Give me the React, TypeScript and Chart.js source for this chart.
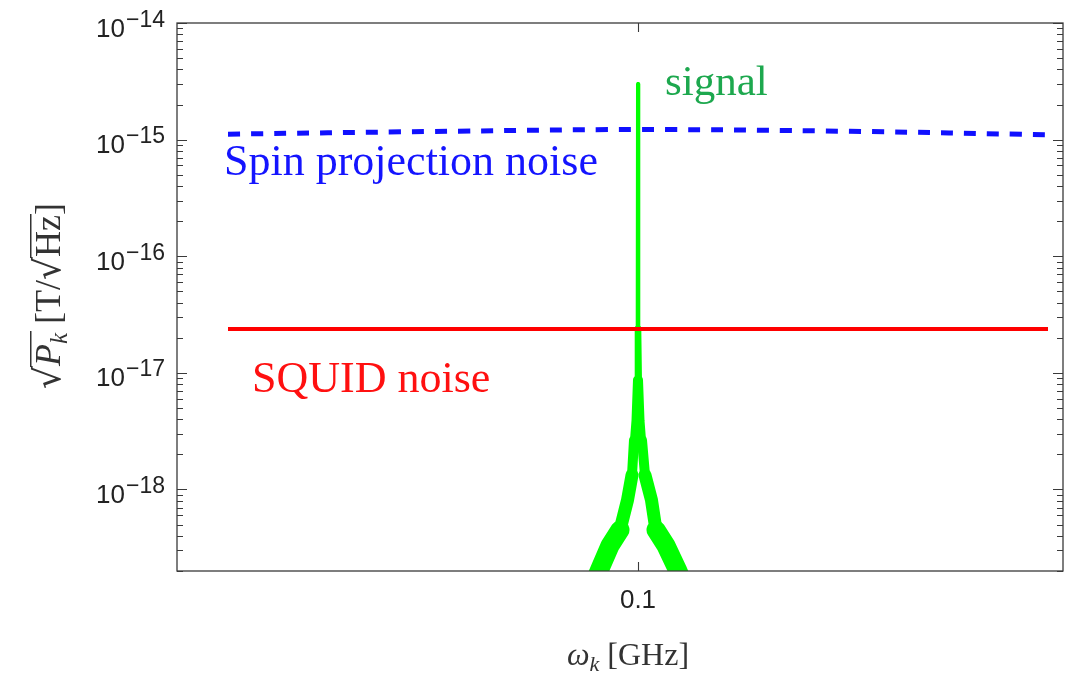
import React, { useEffect, useRef } from "react";
import { Chart, registerables } from "chart.js";

Chart.register(...registerables);

// ---- axis ranges ----
const xMin = 0.099539; // GHz
const xMax = 0.100425;
const yMin = 2e-19;
const yMax = 1e-14;

// ---- tick labels ----
const xTickValues = [0.1];
const xTickLabels = ["0.1"];
const yTickValues = [1e-14, 1e-15, 1e-16, 1e-17, 1e-18];
const yTickBase = "10";
const yTickExponents = ["\u221214", "\u221215", "\u221216", "\u221217", "\u221218"];

// ---- series: signal (left and right flanks of the resonance) ----
const signalLeftX = [0.099955, 0.099961, 0.099972, 0.099982, 0.0999895, 0.099994, 0.099996, 0.0999975, 0.099999, 0.0999997, 0.1];
const signalLeftY = [1.5e-19, 2.0e-19, 3.3e-19, 4.5e-19, 8.1e-19, 1.33e-18, 2.65e-18, 3.9e-18, 8.7e-18, 2.4e-17, 3.0e-15];
const signalRightX = [0.1000003, 0.100001, 0.1000025, 0.100004, 0.100007, 0.1000135, 0.100018, 0.100028, 0.10004, 0.100046];
const signalRightY = [2.4e-17, 8.7e-18, 3.9e-18, 2.65e-18, 1.33e-18, 8.1e-19, 4.5e-19, 3.3e-19, 2.0e-19, 1.5e-19];

// ---- series: spin projection noise ----
const spinX = [0.09959, 0.09979, 0.1, 0.100212, 0.10041];
const spinY = [1.114e-15, 1.173e-15, 1.22e-15, 1.178e-15, 1.1e-15];

// ---- series: SQUID noise ----
const squidX = [0.09959, 0.10041];
const squidY = [2.38e-17, 2.38e-17];

// ---- annotation texts ----
const signalLabel = "signal";
const spinLabel = "Spin projection noise";
const squidLabel = "SQUID noise";

const toPoints = (xs: number[], ys: number[]) => xs.map((x, i) => ({ x, y: ys[i] }));

const signalWidth = (v: number) => {
  if (v < 4e-19) return 19;
  if (v < 1e-18) return 13;
  if (v < 2e-18) return 10;
  if (v < 5e-18) return 8;
  if (v < 2e-17) return 6;
  return 4;
};

const overlay = {
  id: "overlay",
  afterDatasetsDraw(chart: any) {
    const { ctx, chartArea: a, scales } = chart;
    const x = scales.x;
    const y = scales.y;
    ctx.save();
    // frame
    ctx.strokeStyle = "#3a3a3a";
    ctx.lineWidth = 1.3;
    ctx.strokeRect(a.left, a.top, a.right - a.left, a.bottom - a.top);
    // y ticks (major + minor, inward on both sides)
    ctx.lineWidth = 1.1;
    ctx.beginPath();
    for (let d = -19; d <= -14; d++) {
      for (let k = 1; k <= 9; k++) {
        const v = k * Math.pow(10, d);
        if (v < yMin * 0.999 || v > yMax * 1.001) continue;
        const py = Math.round(y.getPixelForValue(v)) + 0.5;
        const len = k === 1 ? 10 : 6;
        ctx.moveTo(a.left, py);
        ctx.lineTo(a.left + len, py);
        ctx.moveTo(a.right, py);
        ctx.lineTo(a.right - len, py);
      }
    }
    // x ticks
    xTickValues.forEach((v) => {
      const px = Math.round(x.getPixelForValue(v)) + 0.5;
      ctx.moveTo(px, a.bottom);
      ctx.lineTo(px, a.bottom - 9);
      ctx.moveTo(px, a.top);
      ctx.lineTo(px, a.top + 9);
    });
    ctx.stroke();

    // y tick labels with superscript exponents
    ctx.fillStyle = "#222";
    ctx.textBaseline = "alphabetic";
    yTickValues.forEach((v, i) => {
      const py = y.getPixelForValue(v);
      const right = a.left - 12;
      ctx.font = "23px 'Liberation Sans', Arial, sans-serif";
      const ew = ctx.measureText(yTickExponents[i]).width;
      ctx.textAlign = "left";
      ctx.fillText(yTickExponents[i], right - ew, py + 3.5);
      ctx.font = "26px 'Liberation Sans', Arial, sans-serif";
      ctx.textAlign = "right";
      ctx.fillText(yTickBase, right - ew - 1, py + 13.5);
    });
    // x tick labels
    ctx.font = "26px 'Liberation Sans', Arial, sans-serif";
    ctx.textAlign = "center";
    xTickValues.forEach((v, i) => {
      ctx.fillText(xTickLabels[i], x.getPixelForValue(v), a.bottom + 37);
    });

    // annotations
    ctx.textAlign = "left";
    ctx.font = "43px 'Liberation Serif', 'Times New Roman', serif";
    ctx.fillStyle = "#1da84e";
    ctx.fillText(signalLabel, 665, 95);
    ctx.font = "44px 'Liberation Serif', 'Times New Roman', serif";
    ctx.fillStyle = "#1414ff";
    ctx.fillText(spinLabel, 224, 175);
    ctx.fillStyle = "#ff1010";
    ctx.fillText(squidLabel, 252, 392);

    // x axis title: ω_k [GHz]
    ctx.fillStyle = "#333";
    {
      const fs = 32;
      const big = `${fs}px 'Liberation Serif', 'DejaVu Serif', serif`;
      const ital = `italic ${fs}px 'Liberation Serif', 'DejaVu Serif', serif`;
      const sub = `italic ${Math.round(fs * 0.7)}px 'Liberation Serif', 'DejaVu Serif', serif`;
      ctx.font = ital;
      const w1 = ctx.measureText("\u03c9").width;
      ctx.font = sub;
      const w2 = ctx.measureText("k").width;
      ctx.font = big;
      const w3 = ctx.measureText(" [GHz]").width;
      const total = w1 + w2 + w3;
      let cx = 628 - total / 2;
      const base = 665;
      ctx.textAlign = "left";
      ctx.font = ital;
      ctx.fillText("\u03c9", cx, base);
      cx += w1;
      ctx.font = sub;
      ctx.fillText("k", cx, base + 6);
      cx += w2;
      ctx.font = big;
      ctx.fillText(" [GHz]", cx, base);
    }

    // y axis title: √P_k [T/√Hz] (rotated)
    {
      const fs = 36;
      const big = `${fs}px 'Liberation Serif', 'DejaVu Serif', serif`;
      const ital = `italic ${fs}px 'Liberation Serif', 'DejaVu Serif', serif`;
      const sub = `italic ${Math.round(fs * 0.7)}px 'Liberation Serif', 'DejaVu Serif', serif`;
      const rad = `${fs}px 'DejaVu Serif', serif`;
      ctx.save();
      ctx.translate(60, 296);
      ctx.rotate(-Math.PI / 2);
      ctx.textAlign = "left";
      ctx.fillStyle = "#333";
      ctx.strokeStyle = "#333";
      ctx.lineWidth = 1.5;
      ctx.font = rad;
      const mr = ctx.measureText("\u221a");
      const rw = mr.width;
      const rTop = -mr.actualBoundingBoxAscent + 0.75;
      ctx.font = ital;
      const pw = ctx.measureText("P").width;
      ctx.font = sub;
      const kw = ctx.measureText("k").width;
      ctx.font = big;
      const sw = ctx.measureText(" ").width;
      const tw = ctx.measureText("[T/").width;
      const hw = ctx.measureText("Hz").width;
      const bw = ctx.measureText("]").width;
      const total = rw + pw + kw + sw + tw + rw + hw + bw;
      let u = -total / 2;
      // first radical
      ctx.font = rad;
      ctx.fillText("\u221a", u, 0);
      const ov1s = u + rw - 1;
      u += rw;
      ctx.font = ital;
      ctx.fillText("P", u, 0);
      u += pw;
      ctx.font = sub;
      ctx.fillText("k", u, 7);
      u += kw + 2;
      ctx.beginPath();
      ctx.moveTo(ov1s, rTop);
      ctx.lineTo(u, rTop);
      ctx.stroke();
      u += sw - 2;
      ctx.font = big;
      ctx.fillText("[T/", u, 0);
      u += tw;
      ctx.font = rad;
      ctx.fillText("\u221a", u, 0);
      const ov2s = u + rw - 1;
      u += rw;
      ctx.font = big;
      ctx.fillText("Hz", u, 0);
      u += hw;
      ctx.beginPath();
      ctx.moveTo(ov2s, rTop);
      ctx.lineTo(u + 1, rTop);
      ctx.stroke();
      ctx.fillText("]", u, 0);
      ctx.restore();
    }
    ctx.restore();
  },
};

export default function App() {
  const canvasRef = useRef<HTMLCanvasElement | null>(null);

  useEffect(() => {
    if (!canvasRef.current) return;
    const signalPoints = [...toPoints(signalLeftX, signalLeftY), ...toPoints(signalRightX, signalRightY)];
    const chart = new Chart(canvasRef.current, {
      type: "scatter",
      data: {
        datasets: [
          {
            label: spinLabel,
            data: toPoints(spinX, spinY),
            showLine: true,
            borderColor: "#1010ff",
            borderWidth: 5,
            borderDash: [12, 11],
            pointRadius: 0,
            tension: 0.4,
            clip: 0,
          } as any,
          {
            label: squidLabel,
            data: toPoints(squidX, squidY),
            showLine: true,
            borderColor: "#ff0000",
            borderWidth: 4,
            pointRadius: 0,
            clip: 0,
          } as any,
          {
            label: signalLabel,
            data: signalPoints,
            showLine: true,
            borderColor: "#00ff00",
            borderWidth: 4,
            borderCapStyle: "round",
            borderJoinStyle: "round",
            pointRadius: 0,
            clip: 0,
            segment: {
              borderWidth: (c: any) => signalWidth(Math.min(c.p0.parsed.y, c.p1.parsed.y)),
            },
          } as any,
        ],
      },
      options: {
        animation: false,
        responsive: false,
        devicePixelRatio: 1,
        events: [],
        layout: { padding: { left: 177, right: 11, top: 23, bottom: 103 } },
        plugins: { legend: { display: false }, tooltip: { enabled: false } },
        scales: {
          x: { type: "linear", min: xMin, max: xMax, display: false },
          y: { type: "logarithmic", min: yMin, max: yMax, display: false },
        },
      },
      plugins: [overlay],
    });
    return () => chart.destroy();
  }, []);

  return (
    <div style={{ position: "fixed", left: 0, top: 0, width: 1074, height: 674, background: "#fff" }}>
      <canvas ref={canvasRef} width={1074} height={674} style={{ display: "block" }} />
    </div>
  );
}
